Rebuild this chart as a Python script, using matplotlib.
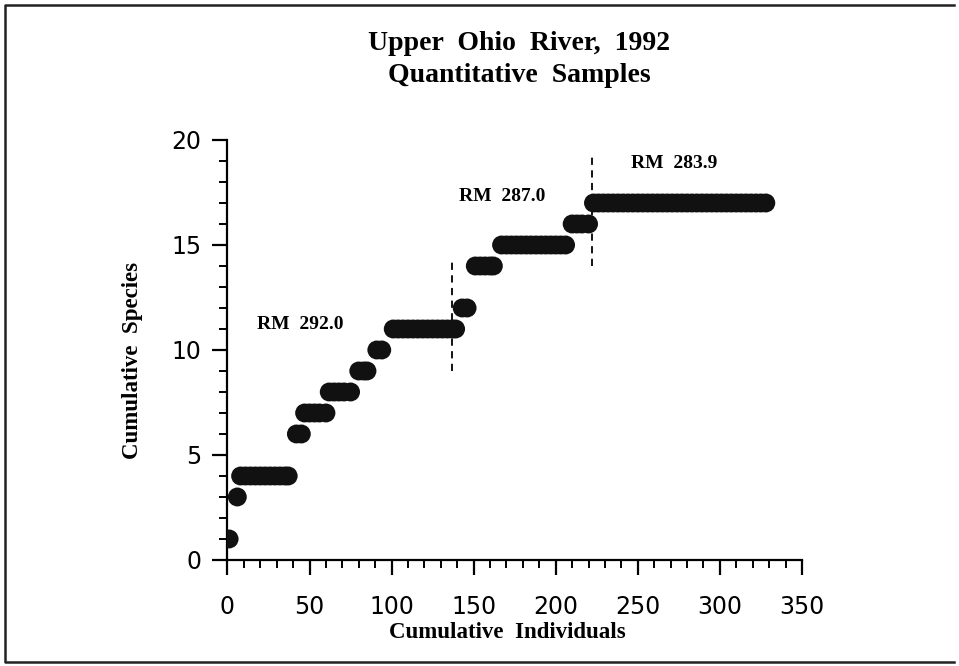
import matplotlib.pyplot as plt
from matplotlib.ticker import MultipleLocator
from matplotlib.lines import Line2D

# cumulative species reached, and the cumulative individual counts
# at which each level was recorded
species_levels = [1, 3, 4, 6, 7, 8, 9, 10, 11, 12, 14, 15, 16, 17]
individuals_at_level = [
    [1],
    [6],
    [8, 11, 14, 17, 20, 23, 26, 29, 32, 35, 37],
    [42, 45],
    [47, 50, 53, 56, 60],
    [62, 65, 68, 71, 75],
    [80, 83, 85],
    [91, 94],
    [101, 104, 107, 110, 113, 116, 119, 122, 125, 128, 131, 134, 137, 139],
    [143, 146],
    [151, 154, 157, 160, 162],
    [167, 170, 173, 176, 179, 182, 185, 188, 191, 194, 197, 200, 203, 206],
    [210, 213, 216, 220],
    [223, 226, 229, 232, 235, 238, 241, 244, 247, 250, 253, 256, 259, 262,
     265, 268, 271, 274, 277, 280, 283, 286, 289, 292, 295, 298, 301, 304,
     307, 310, 313, 316, 319, 322, 325, 328],
]

# river-mile stations and where each sampling block begins
stations = ['RM  292.0', 'RM  287.0', 'RM  283.9']
station_xy = [(18, 11.2), (141, 17.3), (246, 18.9)]
breaks_x = [137, 222]
breaks_y = [(9.0, 14.2), (14.0, 19.3)]

serif = 'Liberation Serif'
sans = 'DejaVu Sans'

xs, ys = [], []
for lvl, pts in zip(species_levels, individuals_at_level):
    xs += pts
    ys += [lvl] * len(pts)

fig = plt.figure(figsize=(9.59, 6.66), dpi=100)
ax = fig.add_axes([0.2372, 0.1592, 0.599, 0.6306])

ax.scatter(xs, ys, s=185, c='#111111', edgecolors='none', zorder=3)

for (y0, y1), bx in zip(breaks_y, breaks_x):
    ax.plot([bx, bx], [y0, y1], color='black', lw=1.3, ls=(0, (4, 3)), zorder=2)

for label, (lx, ly) in zip(stations, station_xy):
    ax.text(lx, ly, label, family=serif, fontweight='bold', fontsize=14,
            ha='left', va='center')

ax.set_xlim(0, 350)
ax.set_ylim(0, 20)
ax.xaxis.set_major_locator(MultipleLocator(50))
ax.xaxis.set_minor_locator(MultipleLocator(10))
ax.yaxis.set_major_locator(MultipleLocator(5))
ax.yaxis.set_minor_locator(MultipleLocator(1))

for side in ['top', 'right']:
    ax.spines[side].set_visible(False)
for side in ['left', 'bottom']:
    ax.spines[side].set_linewidth(1.6)

ax.tick_params(which='major', direction='out', length=11, width=1.6,
               labelsize=17, pad=8)
ax.tick_params(axis='x', which='major', pad=14)
ax.tick_params(which='minor', direction='out', length=6, width=1.4)
for lab in ax.get_xticklabels() + ax.get_yticklabels():
    lab.set_family(sans)

ax.set_xlabel('Cumulative  Individuals', family=serif, fontweight='bold',
              fontsize=16.5)
ax.set_ylabel('Cumulative  Species', family=serif, fontweight='bold',
              fontsize=16.5)
ax.xaxis.set_label_coords(0.488, -0.148)
ax.yaxis.set_label_coords(-0.147, 0.476)

fig.text(0.541, 0.935, 'Upper  Ohio  River,  1992', family=serif,
         fontweight='bold', fontsize=20, ha='center', va='center')
fig.text(0.541, 0.886, 'Quantitative  Samples', family=serif,
         fontweight='bold', fontsize=20, ha='center', va='center')

# page frame (left, top, bottom edges)
frame_x = [0.995, 0.005, 0.005, 0.995]
frame_y = [0.992, 0.992, 0.006, 0.006]
fig.add_artist(Line2D(frame_x, frame_y, transform=fig.transFigure,
                      color='#222222', lw=1.8))

fig.savefig('out.png', dpi=100)
